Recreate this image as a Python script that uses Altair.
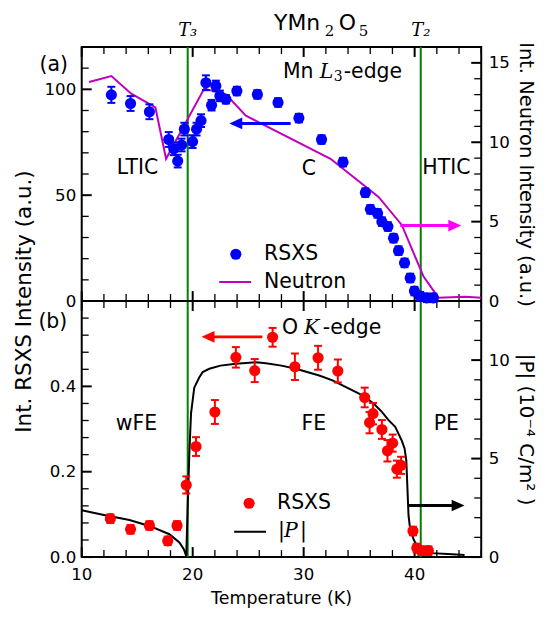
import altair as alt
import pandas as pd

# ---------------- data ----------------
# (a) Mn L3-edge RSXS intensity (left axis) vs temperature
mn_T = [12.67, 14.40, 16.10, 17.84, 18.29, 18.65, 19.00, 19.25, 19.99, 20.35, 20.75,
        21.19, 21.70, 22.09, 22.45, 22.99, 23.98, 25.83, 27.69, 29.57, 31.61, 33.55,
        35.56, 36.01, 36.66, 37.05, 37.59, 38.10, 38.55, 39.09, 39.60, 39.98, 40.50,
        41.09, 41.69]
mn_I = [97.4, 93.3, 89.4, 76.3, 71.9, 66.1, 73.7, 81.2, 75.3, 81.2, 85.2,
        103.1, 92.5, 101.6, 96.9, 95.3, 99.2, 97.6, 93.8, 86.4, 76.3, 65.6,
        51.2, 43.3, 41.4, 37.5, 35.2, 29.7, 23.8, 18.0, 10.9, 4.7, 2.3,
        1.5, 1.5]
mn_err = [3.8, 3.5, 3.5, 3.5, 3.0, 3.0, 3.0, 3.0, 3.0, 3.0, 3.0,
          3.5, 2.5, 2.5, 2.5, 2.0, 2.0, 2.0, 2.0, 2.0, 2.0, 2.0,
          2.0, 2.0, 2.0, 2.0, 2.0, 2.0, 2.0, 2.0, 2.0, 2.0, 2.0,
          2.0, 2.0]

# (a) neutron intensity (right axis)
neu_T = [10.66, 12.67, 14.46, 16.64, 17.60, 21.04, 22.99, 24.79, 32.42, 36.75,
         38.84, 40.79, 42.14, 44.54, 46.0]
neu_I = [13.79, 14.17, 13.06, 12.19, 8.96, 13.38, 13.02, 11.67, 8.96, 6.56,
         4.79, 1.56, 0.21, 0.27, 0.20]

# (b) O K-edge RSXS intensity (left axis)
o_T = [12.58, 14.40, 16.10, 17.75, 18.59, 19.42, 20.30, 22.00, 23.89, 25.59, 27.20,
       29.21, 31.30, 33.08, 35.50, 35.94, 36.25, 37.05, 37.55, 38.02, 38.40, 38.78,
       39.85, 40.19, 40.60, 41.24]
o_I = [0.090, 0.065, 0.074, 0.038, 0.074, 0.169, 0.259, 0.340, 0.468, 0.437, 0.515,
       0.446, 0.467, 0.436, 0.374, 0.315, 0.336, 0.299, 0.249, 0.267, 0.206, 0.215,
       0.061, 0.021, 0.015, 0.015]
o_err = [0.010, 0.010, 0.010, 0.010, 0.010, 0.020, 0.022, 0.028, 0.024, 0.027, 0.022,
         0.031, 0.028, 0.027, 0.023, 0.025, 0.025, 0.022, 0.025, 0.020, 0.020, 0.020,
         0.010, 0.010, 0.010, 0.010]

# (b) polarization |P| (right axis, 1e-4 C/m^2)
pol_T = [10.0, 12.0, 14.3, 16.1, 17.9, 18.8, 19.2, 19.42, 19.55, 19.7, 19.85, 20.14,
         20.6, 20.9, 21.5, 22.5, 23.9, 25.7, 26.6, 28.0, 29.3, 31.4, 32.6, 33.5, 35.3,
         36.3, 37.05, 37.65, 38.25, 38.85, 39.1, 39.25, 39.35, 39.45, 39.6, 39.9,
         40.34, 41.5, 43.0, 44.5]
pol_P = [2.38, 2.14, 1.88, 1.58, 1.16, 0.74, 0.40, 0.05, 2.6, 5.3, 7.3, 8.6,
         9.13, 9.39, 9.56, 9.72, 9.81, 9.89, 9.84, 9.72, 9.56, 9.22, 8.97, 8.72, 8.21,
         7.80, 7.37, 6.95, 6.61, 5.90, 5.50, 4.90, 3.50, 2.10, 1.41, 0.91,
         0.40, 0.20, 0.15, 0.10]

# transition temperatures
trans_T = [19.55, 40.55]
trans_lab = ["T₃", "T₂"]

# annotation arrows: (start T, end T, level)
arrow_a_rsxs = (28.83, 23.3, 83.9)
arrow_a_neu = (38.7, 44.2, 4.75)
arrow_b_rsxs = (26.28, 20.8, 0.516)
arrow_b_pol = (39.45, 44.5, 2.62)

# tick values / labels
x_major = [10, 20, 30, 40]
x_major_lab = ["10", "20", "30", "40"]
x_minor = [12, 14, 16, 18, 22, 24, 26, 28, 32, 34, 36, 38, 42, 44, 46]
tl_major = [0, 50, 100]
tl_minor = [10, 20, 30, 40, 60, 70, 80, 90, 110]
tr_major = [0, 5, 10, 15]
tr_minor = [1, 2, 3, 4, 6, 7, 8, 9, 11, 12, 13, 14, 16]
bl_major = [0.0, 0.2, 0.4]
bl_minor = [0.04, 0.08, 0.12, 0.16, 0.24, 0.28, 0.32, 0.36, 0.44, 0.48, 0.52, 0.56]
br_major = [0, 5, 10]
br_minor = [1, 2, 3, 4, 6, 7, 8, 9, 11, 12]

# ---------------- layout ----------------
W, H1, H2 = 401, 255, 257
H = H1 + H2
FONT = "DejaVu Sans"
SERIF = "DejaVu Serif"
TICK_FS = 16.7
ANN_FS = 20.5
MAJ, MIN = 10, 7

xs = alt.Scale(domain=[10, 46], nice=False, zero=False)
s_tl = alt.Scale(domain=[0, 120], range=[H1, 0], nice=False, zero=False)
s_tr = alt.Scale(domain=[0, 16], range=[H1, 0], nice=False, zero=False)
s_bl = alt.Scale(domain=[0, 0.6], range=[H, H1], nice=False, zero=False)
s_br = alt.Scale(domain=[0, 13], range=[H, H1], nice=False, zero=False)

dummy = pd.DataFrame({"d": [0]})


def X(field="T"):
    return alt.X(f"{field}:Q", scale=xs, axis=None)


def txt(s, x, y, size=ANN_FS, font=FONT, style="normal", align="left", color="black"):
    return alt.Chart(dummy).mark_text(
        text=s, font=font, fontSize=size, fontStyle=style, align=align,
        baseline="middle", color=color
    ).encode(x=alt.value(x), y=alt.value(y))


def x_ticks():
    out = []
    for vals, ln, wd in ((x_major, MAJ, 2), (x_minor, MIN, 1.3)):
        b = alt.Chart(pd.DataFrame({"t": vals}))
        for yc in (H - ln / 2, ln / 2, H1 - ln / 2, H1 + ln / 2):
            out.append(b.mark_tick(color="black", orient="vertical", size=ln,
                                   thickness=wd, opacity=1).encode(
                x=X("t"), y=alt.value(yc)))
    return out


def y_ticks(major, minor, scale, side, axis):
    out = []
    for vals, ln, wd in ((major, MAJ, 2), (minor, MIN, 1.3)):
        xc = ln / 2 if side == "left" else W - ln / 2
        out.append(alt.Chart(pd.DataFrame({"v": vals})).mark_tick(
            color="black", orient="horizontal", size=ln, thickness=wd, opacity=1).encode(
            y=alt.Y("v:Q", scale=scale, axis=axis if ln == MAJ else None),
            x=alt.value(xc)))
    return out


def points_with_err(T, I, E, scale, color, cap):
    df = pd.DataFrame({"T": T, "I": I, "e": E})
    base = alt.Chart(df).transform_calculate(lo="datum.I - datum.e", hi="datum.I + datum.e")
    rule = base.mark_rule(color=color, strokeWidth=2).encode(
        x=X(), y=alt.Y("lo:Q", scale=scale, axis=None), y2="hi:Q")
    c1 = base.mark_tick(color=color, orient="horizontal", size=cap, thickness=2, opacity=1).encode(
        x=X(), y=alt.Y("lo:Q", scale=scale, axis=None))
    c2 = base.mark_tick(color=color, orient="horizontal", size=cap, thickness=2, opacity=1).encode(
        x=X(), y=alt.Y("hi:Q", scale=scale, axis=None))
    pts = alt.Chart(df).mark_point(filled=True, color=color, size=125, opacity=1).encode(
        x=X(), y=alt.Y("I:Q", scale=scale, axis=None))
    return [rule, c1, c2, pts]


def arrow(spec, scale, color):
    x0, x1, yv = spec
    left = x1 < x0
    back = 0.6 if left else -0.6
    df = pd.DataFrame({"x0": [x0], "x1": [x1], "xe": [x1 + back], "y": [yv]})
    shaft = alt.Chart(df).mark_rule(color=color, strokeWidth=3).encode(
        x=X("x0"), x2="xe:Q", y=alt.Y("y:Q", scale=scale, axis=None))
    path = "M 0 0 L 1 -0.45 L 1 0.45 Z" if left else "M 0 0 L -1 -0.45 L -1 0.45 Z"
    head = alt.Chart(df).mark_point(shape=path, filled=True, color=color, size=676,
                                    opacity=1, strokeWidth=0).encode(
        x=X("x1"), y=alt.Y("y:Q", scale=scale, axis=None))
    return [shaft, head]


# ---------------- axes ----------------
ax_tl = alt.Axis(orient="left", values=tl_major, ticks=False, domain=False, grid=False,
                 labelFontSize=TICK_FS, labelPadding=6, labelFont=FONT,
                 title="Int. RSXS Intensity (a.u.)", titleFontSize=21.5, titleFont=FONT,
                 titleFontWeight="normal", titleY=H1, titlePadding=9)
ax_tr = alt.Axis(orient="right", values=tr_major, ticks=False, domain=False, grid=False,
                 labelFontSize=TICK_FS, labelPadding=7, labelFont=FONT,
                 title="Int. Neutron Intensity (a.u.)", titleFontSize=19.5, titleFont=FONT,
                 titleFontWeight="normal", titlePadding=6)
ax_bl = alt.Axis(orient="left", values=bl_major, ticks=False, domain=False, grid=False,
                 labelFontSize=TICK_FS, labelPadding=6, labelFont=FONT, format=".1f",
                 title=None)
ax_br = alt.Axis(orient="right", values=br_major, ticks=False, domain=False, grid=False,
                 labelFontSize=TICK_FS, labelPadding=7, labelFont=FONT,
                 title="|P| (10⁻⁴ C/m² )", titleFontSize=20, titleFont=FONT,
                 titleFontWeight="normal", titlePadding=6)

# ---------------- marks ----------------
green = alt.Chart(pd.DataFrame({"T": trans_T})).mark_rule(color="green", strokeWidth=2).encode(x=X())
divider = alt.Chart(dummy).mark_rule(color="black", strokeWidth=2).encode(
    x=alt.value(0), x2=alt.value(W), y=alt.value(H1))

neu_line = alt.Chart(pd.DataFrame({"T": neu_T, "n": neu_I})).mark_line(
    color="#bf00bf", strokeWidth=2).encode(
    x=X(), y=alt.Y("n:Q", scale=s_tr, axis=None), order="T:Q")

pol_line = alt.Chart(pd.DataFrame({"T": pol_T, "P": pol_P})).mark_line(
    color="black", strokeWidth=2).encode(
    x=X(), y=alt.Y("P:Q", scale=s_br, axis=None), order="T:Q")

tlabels = alt.Chart(pd.DataFrame({"T": trans_T, "lab": trans_lab})).mark_text(
    font=SERIF, fontStyle="italic", fontSize=18, baseline="middle").encode(
    x=X(), y=alt.value(-16), text="lab:N")

xlabels = alt.Chart(pd.DataFrame({"t": x_major, "lab": x_major_lab})).mark_text(
    font=FONT, fontSize=TICK_FS, baseline="middle", align="center").encode(
    x=X("t"), y=alt.value(H + 18), text="lab:N")

annotations = [
    tlabels,
    xlabels,
    txt("Temperature (K)", W / 2, H + 42, size=17.5, align="center"),
    # panel (a)
    txt("YMn", 193, -24, size=22),
    txt("2", 244, -16, size=15, font=SERIF),
    txt("O", 258, -24, size=22),
    txt("5", 278, -16, size=15, font=SERIF),
    txt("(a)", -28, 18, align="center"),
    txt("Mn", 202, 25),
    txt("L", 239, 25, font=SERIF, style="italic"),
    txt("3", 253, 30, size=14, font=SERIF),
    txt("-edge", 263, 25),
    txt("LTIC", 56, 121, align="center"),
    txt("C", 228, 122, align="center"),
    txt("HTIC", 366, 121, align="center"),
    alt.Chart(dummy).mark_point(filled=True, color="blue", size=125, opacity=1).encode(
        x=alt.value(154.7), y=alt.value(208)),
    txt("RSXS", 183, 208),
    alt.Chart(dummy).mark_rule(color="#bf00bf", strokeWidth=2).encode(
        x=alt.value(138), x2=alt.value(170), y=alt.value(236)),
    txt("Neutron", 183, 236),
    # panel (b)
    txt("(b)", -29, H1 + 21, align="center"),
    txt("O", 201, H1 + 27),
    txt("K", 223, H1 + 27, font=SERIF, style="italic"),
    txt("-edge", 242, H1 + 27),
    txt("wFE", 55, H1 + 123, align="center"),
    txt("FE", 233, H1 + 123, align="center"),
    txt("PE", 366, H1 + 123, align="center"),
    alt.Chart(dummy).mark_point(filled=True, color="red", size=125, opacity=1).encode(
        x=alt.value(168), y=alt.value(H1 + 203)),
    txt("RSXS", 196, H1 + 203),
    alt.Chart(dummy).mark_rule(color="black", strokeWidth=2).encode(
        x=alt.value(153), x2=alt.value(185), y=alt.value(H1 + 231.5)),
    txt("|", 197, H1 + 231),
    txt("P", 203, H1 + 231, font=SERIF, style="italic"),
    txt("|", 219, H1 + 231),
]

layers = (
    x_ticks()
    + [green, divider]
    + y_ticks(tl_major, tl_minor, s_tl, "left", ax_tl)
    + y_ticks(tr_major, tr_minor, s_tr, "right", ax_tr)
    + y_ticks(bl_major, bl_minor, s_bl, "left", ax_bl)
    + y_ticks(br_major, br_minor, s_br, "right", ax_br)
    + [neu_line, pol_line]
    + points_with_err(mn_T, mn_I, mn_err, s_tl, "blue", 8)
    + points_with_err(o_T, o_I, o_err, s_bl, "red", 8)
    + arrow(arrow_a_rsxs, s_tl, "blue")
    + arrow(arrow_a_neu, s_tr, "#ff00ff")
    + arrow(arrow_b_rsxs, s_bl, "red")
    + arrow(arrow_b_pol, s_br, "black")
    + annotations
)

chart = alt.layer(*layers).resolve_scale(y="independent").properties(
    width=W, height=H,
    padding={"left": 5, "top": 3, "right": 3, "bottom": 0},
).configure_view(stroke="black", strokeWidth=2).configure_axis(
    grid=False, labelColor="black", titleColor="black"
)

chart.save("out.html", embed_options={"renderer": "svg", "actions": False})
